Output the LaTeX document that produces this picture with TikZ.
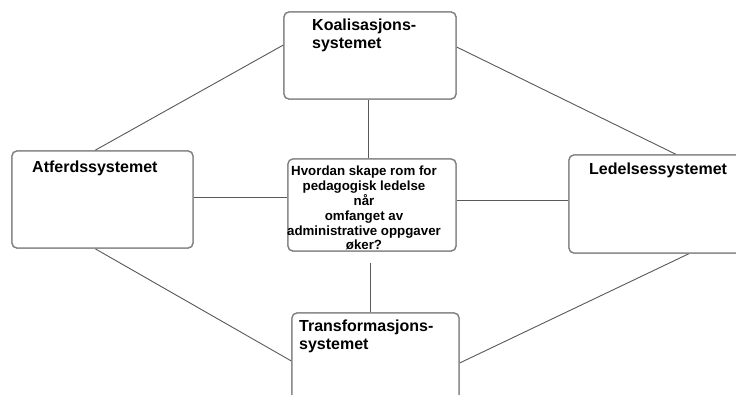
\documentclass[tikz,border=0pt]{standalone}
\usepackage{fontspec}
\setmainfont{Liberation Sans}
\usetikzlibrary{calc}
\begin{document}
\begin{tikzpicture}[x=1pt,y=-1pt,
  box/.style={draw=black!50, line width=1.3pt, rounded corners=5pt, fill=white, inner sep=0pt},
  conn/.style={draw=black!65, line width=0.9pt},
  head/.style={inner sep=0pt, anchor=north west, align=left, font=\bfseries\fontsize{16}{18}\selectfont},
  midtxt/.style={inner sep=0pt, anchor=north, align=center, font=\bfseries\fontsize{13.3}{14.8}\selectfont}]
\useasboundingbox (0,0) rectangle (736,394);
\clip (0,0) rectangle (736,394);
\fill[white] (0,0) rectangle (736,394);
% boxes
\node[box, minimum width=172pt, minimum height=87pt] (top) at (370,55.5) {};
\node[box, minimum width=181pt, minimum height=97pt] (left) at (102.5,199.5) {};
\node[box, minimum width=168pt, minimum height=92pt] (mid) at (372,205) {};
\node[box, minimum width=181pt, minimum height=98pt] (right) at (659.5,204) {};
\node[box, minimum width=167pt, minimum height=97pt] (bot) at (375.5,361.5) {};
% connector end points
\coordinate (tw) at ([yshift=10.5pt]top.west);
\coordinate (te) at ([yshift=8.5pt]top.east);
\coordinate (ln) at ([xshift=-7.5pt]left.north);
\coordinate (ls) at ([xshift=-7.5pt]left.south);
\coordinate (rn) at ([xshift=16.5pt]right.north);
\coordinate (rs) at ([xshift=29.5pt]right.south);
\coordinate (bw) at ([yshift=0.5pt]bot.west);
\coordinate (be) at ([yshift=-1.5pt]bot.east);
\coordinate (le) at ([yshift=2.5pt]left.east);
\coordinate (mw) at (mid.west |- le);
\coordinate (me) at ([yshift=5pt]mid.east);
\coordinate (rw) at (right.west |- me);
\coordinate (ms) at ([xshift=-2pt,yshift=-11pt]mid.south);
% connectors
\draw[conn] (tw) -- (ln);
\draw[conn] (te) -- (rn);
\draw[conn] (ls) -- (bw);
\draw[conn] (rs) -- (be);
\draw[conn] (top.south -| mid.north) ++(-4pt,0) coordinate (ts) -- (ts |- mid.north);
\draw[conn] (ms) -- (ms |- bot.north);
\draw[conn] (le) -- (mw);
\draw[conn] (me) -- (rw);
% redraw boxes on top of lines
\node[box, minimum width=172pt, minimum height=87pt] at (top) {};
\node[box, minimum width=181pt, minimum height=97pt] at (left) {};
\node[box, minimum width=168pt, minimum height=92pt] at (mid) {};
\node[box, minimum width=181pt, minimum height=98pt] at (right) {};
\node[box, minimum width=167pt, minimum height=97pt] at (bot) {};
% labels
\node[head] (toplabel) at (312,19) {Koalisasjons-\\systemet};
\node[head] (leftlabel) at (32,161) {Atferdssystemet};
\node[head] (rightlabel) at (589,163) {Ledelsessystemet};
\node[head] (botlabel) at (299,320) {Transformasjons-\\systemet};
\node[midtxt] (midlabel) at (364,166) {Hvordan skape rom for\\pedagogisk ledelse\\når\\omfanget av\\administrative oppgaver\\øker?};
\end{tikzpicture}
\end{document}
